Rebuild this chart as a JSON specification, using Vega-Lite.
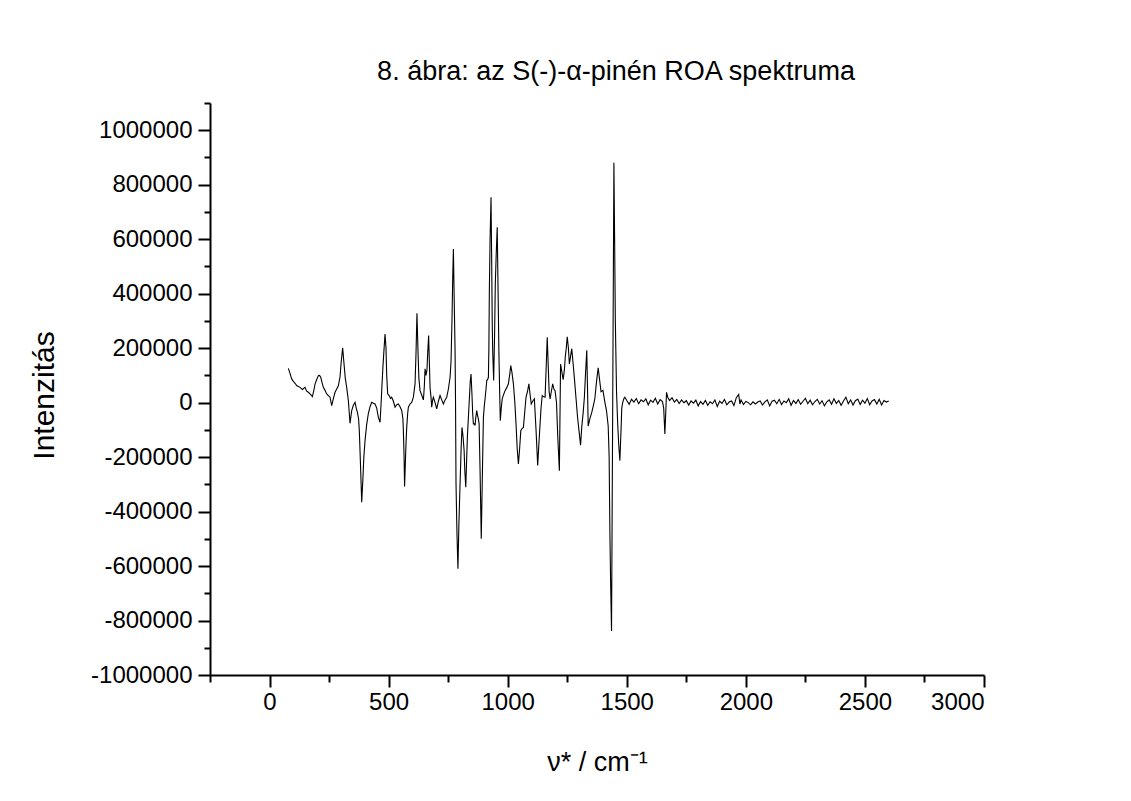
{
  "$schema": "https://vega.github.io/schema/vega-lite/v6.json",
  "width": 774,
  "height": 572,
  "autosize": {"type": "none"},
  "padding": {"left": 210, "top": 103, "right": 147, "bottom": 126},
  "background": "white",
  "config": {"view": {"stroke": null}, "font": "Liberation Sans"},
  "title": {"text": "8. ábra: az S(-)-α-pinén ROA spektruma", "fontSize": 27, "font": "Liberation Sans", "fontWeight": "normal", "color": "black", "anchor": "middle", "baseline": "alphabetic", "offset": -5, "dx": 19},
  "data": {"values": [
    {"nu":79,"I":126000},{"nu":85,"I":110000},{"nu":93,"I":87000},{"nu":100,"I":78000},{"nu":107,"I":71000},{"nu":115,"I":62000},{"nu":128,"I":56000},{"nu":138,"I":48000},{"nu":149,"I":56000},{"nu":156,"I":42000},{"nu":163,"I":38000},{"nu":172,"I":30000},{"nu":180,"I":22000},{"nu":186,"I":45000},{"nu":191,"I":68000},{"nu":198,"I":85000},{"nu":205,"I":99000},{"nu":210,"I":100000},{"nu":215,"I":93000},{"nu":220,"I":75000},{"nu":226,"I":56000},{"nu":233,"I":45000},{"nu":240,"I":32000},{"nu":247,"I":26000},{"nu":254,"I":20000},{"nu":261,"I":-11000},{"nu":268,"I":15000},{"nu":275,"I":38000},{"nu":282,"I":50000},{"nu":289,"I":62000},{"nu":296,"I":95000},{"nu":301,"I":150000},{"nu":307,"I":201000},{"nu":312,"I":150000},{"nu":318,"I":90000},{"nu":324,"I":56000},{"nu":331,"I":7000},{"nu":338,"I":-76000},{"nu":345,"I":-29000},{"nu":352,"I":-10000},{"nu":359,"I":1000},{"nu":364,"I":-20000},{"nu":369,"I":-36000},{"nu":374,"I":-60000},{"nu":377,"I":-103000},{"nu":382,"I":-230000},{"nu":387,"I":-366000},{"nu":392,"I":-280000},{"nu":396,"I":-200000},{"nu":401,"I":-139000},{"nu":408,"I":-80000},{"nu":415,"I":-39000},{"nu":422,"I":-15000},{"nu":429,"I":1000},{"nu":436,"I":-2000},{"nu":443,"I":-5000},{"nu":450,"I":-20000},{"nu":457,"I":-54000},{"nu":464,"I":-72000},{"nu":468,"I":-10000},{"nu":471,"I":44000},{"nu":476,"I":130000},{"nu":481,"I":200000},{"nu":485,"I":252000},{"nu":489,"I":200000},{"nu":492,"I":100000},{"nu":496,"I":32000},{"nu":503,"I":25000},{"nu":508,"I":15000},{"nu":513,"I":20000},{"nu":520,"I":5000},{"nu":527,"I":-17000},{"nu":534,"I":-8000},{"nu":541,"I":-5000},{"nu":548,"I":-15000},{"nu":555,"I":-29000},{"nu":560,"I":-60000},{"nu":562,"I":-103000},{"nu":565,"I":-200000},{"nu":567,"I":-308000},{"nu":570,"I":-230000},{"nu":573,"I":-150000},{"nu":576,"I":-91000},{"nu":580,"I":-40000},{"nu":583,"I":-17000},{"nu":590,"I":-5000},{"nu":597,"I":1000},{"nu":604,"I":20000},{"nu":611,"I":69000},{"nu":615,"I":180000},{"nu":619,"I":328000},{"nu":623,"I":200000},{"nu":627,"I":90000},{"nu":632,"I":44000},{"nu":638,"I":30000},{"nu":646,"I":10000},{"nu":650,"I":60000},{"nu":653,"I":124000},{"nu":657,"I":100000},{"nu":661,"I":120000},{"nu":664,"I":180000},{"nu":668,"I":246000},{"nu":671,"I":150000},{"nu":674,"I":56000},{"nu":678,"I":20000},{"nu":681,"I":-17000},{"nu":685,"I":10000},{"nu":688,"I":20000},{"nu":695,"I":0},{"nu":702,"I":-23000},{"nu":709,"I":5000},{"nu":716,"I":26000},{"nu":723,"I":10000},{"nu":730,"I":-5000},{"nu":737,"I":10000},{"nu":744,"I":20000},{"nu":751,"I":50000},{"nu":758,"I":93000},{"nu":762,"I":150000},{"nu":766,"I":300000},{"nu":769,"I":450000},{"nu":772,"I":564000},{"nu":775,"I":400000},{"nu":779,"I":191000},{"nu":781,"I":0},{"nu":783,"I":-299000},{"nu":787,"I":-480000},{"nu":791,"I":-610000},{"nu":795,"I":-450000},{"nu":800,"I":-298000},{"nu":804,"I":-180000},{"nu":808,"I":-91000},{"nu":812,"I":-120000},{"nu":817,"I":-176000},{"nu":820,"I":-250000},{"nu":824,"I":-311000},{"nu":828,"I":-200000},{"nu":831,"I":-120000},{"nu":835,"I":-54000},{"nu":840,"I":30000},{"nu":843,"I":80000},{"nu":846,"I":105000},{"nu":850,"I":30000},{"nu":853,"I":-40000},{"nu":856,"I":-78000},{"nu":860,"I":-78000},{"nu":863,"I":-84000},{"nu":866,"I":-55000},{"nu":870,"I":-29000},{"nu":874,"I":-50000},{"nu":877,"I":-60000},{"nu":880,"I":-78000},{"nu":884,"I":-250000},{"nu":889,"I":-500000},{"nu":893,"I":-300000},{"nu":898,"I":-54000},{"nu":902,"I":-10000},{"nu":905,"I":14000},{"nu":909,"I":50000},{"nu":912,"I":81000},{"nu":916,"I":85000},{"nu":919,"I":93000},{"nu":921,"I":200000},{"nu":923,"I":411000},{"nu":926,"I":600000},{"nu":930,"I":754000},{"nu":933,"I":500000},{"nu":935,"I":300000},{"nu":937,"I":191000},{"nu":941,"I":81000},{"nu":945,"I":250000},{"nu":948,"I":436000},{"nu":952,"I":550000},{"nu":956,"I":644000},{"nu":959,"I":450000},{"nu":963,"I":191000},{"nu":966,"I":50000},{"nu":969,"I":-66000},{"nu":973,"I":-20000},{"nu":977,"I":14000},{"nu":983,"I":30000},{"nu":989,"I":44000},{"nu":996,"I":55000},{"nu":1003,"I":69000},{"nu":1008,"I":100000},{"nu":1013,"I":136000},{"nu":1018,"I":110000},{"nu":1024,"I":69000},{"nu":1030,"I":0},{"nu":1035,"I":-78000},{"nu":1040,"I":-170000},{"nu":1045,"I":-225000},{"nu":1050,"I":-170000},{"nu":1055,"I":-103000},{"nu":1060,"I":-95000},{"nu":1066,"I":-91000},{"nu":1071,"I":-40000},{"nu":1077,"I":20000},{"nu":1083,"I":40000},{"nu":1089,"I":69000},{"nu":1094,"I":30000},{"nu":1099,"I":-5000},{"nu":1105,"I":5000},{"nu":1112,"I":14000},{"nu":1119,"I":-100000},{"nu":1126,"I":-231000},{"nu":1131,"I":-150000},{"nu":1136,"I":-78000},{"nu":1140,"I":-20000},{"nu":1145,"I":26000},{"nu":1150,"I":22000},{"nu":1157,"I":20000},{"nu":1162,"I":140000},{"nu":1166,"I":240000},{"nu":1170,"I":140000},{"nu":1174,"I":40000},{"nu":1178,"I":14000},{"nu":1183,"I":40000},{"nu":1189,"I":69000},{"nu":1194,"I":50000},{"nu":1199,"I":44000},{"nu":1205,"I":0},{"nu":1210,"I":-120000},{"nu":1217,"I":-250000},{"nu":1222,"I":141000},{"nu":1228,"I":110000},{"nu":1233,"I":84000},{"nu":1238,"I":120000},{"nu":1242,"I":170000},{"nu":1246,"I":200000},{"nu":1250,"I":242000},{"nu":1255,"I":200000},{"nu":1259,"I":141000},{"nu":1264,"I":170000},{"nu":1269,"I":198000},{"nu":1274,"I":150000},{"nu":1280,"I":90000},{"nu":1287,"I":15000},{"nu":1293,"I":-50000},{"nu":1299,"I":-100000},{"nu":1306,"I":-156000},{"nu":1311,"I":-90000},{"nu":1317,"I":-36000},{"nu":1322,"I":20000},{"nu":1327,"I":110000},{"nu":1332,"I":192000},{"nu":1335,"I":60000},{"nu":1338,"I":-86000},{"nu":1345,"I":-60000},{"nu":1353,"I":-36000},{"nu":1360,"I":-10000},{"nu":1366,"I":15000},{"nu":1371,"I":60000},{"nu":1376,"I":100000},{"nu":1380,"I":128000},{"nu":1385,"I":90000},{"nu":1392,"I":40000},{"nu":1400,"I":45000},{"nu":1408,"I":2000},{"nu":1415,"I":-30000},{"nu":1422,"I":-86000},{"nu":1426,"I":-200000},{"nu":1429,"I":-465000},{"nu":1432,"I":-650000},{"nu":1436,"I":-838000},{"nu":1441,"I":0},{"nu":1446,"I":881000},{"nu":1449,"I":600000},{"nu":1452,"I":300000},{"nu":1457,"I":40000},{"nu":1462,"I":-80000},{"nu":1466,"I":-150000},{"nu":1471,"I":-213000},{"nu":1476,"I":-100000},{"nu":1479,"I":-20000},{"nu":1483,"I":1000},{"nu":1488,"I":15000},{"nu":1492,"I":20000},
    {"nu":1500,"I":8000},{"nu":1510,"I":-6000},{"nu":1520,"I":12000},{"nu":1530,"I":2000},{"nu":1540,"I":15000},{"nu":1550,"I":-4000},{"nu":1560,"I":10000},{"nu":1570,"I":3000},{"nu":1580,"I":14000},{"nu":1590,"I":-8000},{"nu":1600,"I":9000},{"nu":1610,"I":1000},{"nu":1620,"I":16000},{"nu":1630,"I":-5000},{"nu":1640,"I":11000},{"nu":1650,"I":4000},{"nu":1655,"I":-20000},{"nu":1660,"I":-115000},{"nu":1664,"I":-30000},{"nu":1667,"I":38000},{"nu":1672,"I":20000},{"nu":1680,"I":8000},{"nu":1690,"I":18000},{"nu":1700,"I":2000},{"nu":1710,"I":12000},{"nu":1720,"I":-3000},{"nu":1730,"I":10000},{"nu":1740,"I":0},{"nu":1750,"I":7000},{"nu":1760,"I":-9000},{"nu":1770,"I":6000},{"nu":1780,"I":-2000},{"nu":1790,"I":9000},{"nu":1800,"I":-12000},{"nu":1810,"I":4000},{"nu":1820,"I":-6000},{"nu":1830,"I":8000},{"nu":1840,"I":-10000},{"nu":1850,"I":3000},{"nu":1860,"I":-4000},{"nu":1870,"I":10000},{"nu":1880,"I":-14000},{"nu":1890,"I":5000},{"nu":1900,"I":-3000},{"nu":1910,"I":12000},{"nu":1920,"I":-8000},{"nu":1930,"I":2000},{"nu":1940,"I":6000},{"nu":1950,"I":-11000},{"nu":1960,"I":18000},{"nu":1970,"I":30000},{"nu":1975,"I":-5000},{"nu":1980,"I":10000},{"nu":1990,"I":-7000},{"nu":2000,"I":4000},{"nu":2010,"I":0},{"nu":2020,"I":-8000},{"nu":2030,"I":3000},{"nu":2040,"I":-5000},{"nu":2050,"I":2000},{"nu":2060,"I":6000},{"nu":2070,"I":-9000},{"nu":2080,"I":3000},{"nu":2090,"I":10000},{"nu":2100,"I":-12000},{"nu":2110,"I":5000},{"nu":2120,"I":9000},{"nu":2130,"I":-4000},{"nu":2140,"I":12000},{"nu":2150,"I":-7000},{"nu":2160,"I":6000},{"nu":2170,"I":0},{"nu":2180,"I":14000},{"nu":2190,"I":-10000},{"nu":2200,"I":8000},{"nu":2210,"I":-3000},{"nu":2220,"I":11000},{"nu":2230,"I":-6000},{"nu":2240,"I":5000},{"nu":2250,"I":16000},{"nu":2260,"I":-4000},{"nu":2270,"I":9000},{"nu":2280,"I":-8000},{"nu":2290,"I":4000},{"nu":2300,"I":12000},{"nu":2310,"I":-5000},{"nu":2320,"I":7000},{"nu":2330,"I":-12000},{"nu":2340,"I":3000},{"nu":2350,"I":10000},{"nu":2360,"I":-6000},{"nu":2370,"I":14000},{"nu":2380,"I":-3000},{"nu":2390,"I":8000},{"nu":2400,"I":-10000},{"nu":2410,"I":6000},{"nu":2420,"I":20000},{"nu":2430,"I":-4000},{"nu":2440,"I":10000},{"nu":2450,"I":-9000},{"nu":2460,"I":7000},{"nu":2470,"I":13000},{"nu":2480,"I":-7000},{"nu":2490,"I":9000},{"nu":2500,"I":-2000},{"nu":2510,"I":15000},{"nu":2520,"I":-8000},{"nu":2530,"I":6000},{"nu":2540,"I":11000},{"nu":2550,"I":-5000},{"nu":2560,"I":12000},{"nu":2570,"I":-9000},{"nu":2580,"I":8000},{"nu":2590,"I":2000},{"nu":2600,"I":6000}
  ]},
  "layer": [
    {
      "mark": {"type": "line", "color": "black", "strokeWidth": 1.1, "clip": true},
      "encoding": {
        "x": {"field": "nu", "type": "quantitative", "sort": null,
          "scale": {"domain": [-250, 3000], "nice": false, "zero": false},
          "axis": {"orient": "bottom", "values": [0, 500, 1000, 1500, 2000, 2500, 3000], "labelExpr": "'' + datum.value", "grid": false,
            "domainColor": "black", "domainWidth": 2, "tickColor": "black", "tickWidth": 2, "tickSize": 12,
            "labelColor": "black", "labelFontSize": 24, "labelFont": "Liberation Sans", "labelPadding": 3,
            "title": "ν* / cm⁻¹", "titleFont": "Liberation Sans", "titleFontSize": 27, "titleFontWeight": "normal", "titleColor": "black",
            "titleX": 387, "titleY": 95, "titleBaseline": "alphabetic", "titleAlign": "center"}},
        "y": {"field": "I", "type": "quantitative",
          "scale": {"domain": [-1000000, 1100000], "nice": false, "zero": false},
          "axis": {"orient": "left", "values": [-1000000, -800000, -600000, -400000, -200000, 0, 200000, 400000, 600000, 800000, 1000000], "labelExpr": "'' + datum.value", "grid": false,
            "domainColor": "black", "domainWidth": 2, "tickColor": "black", "tickWidth": 2, "tickSize": 12,
            "labelColor": "black", "labelFontSize": 24, "labelFont": "Liberation Sans", "labelPadding": 6,
            "title": "Intenzitás", "titleFont": "Liberation Sans", "titleFontSize": 30, "titleFontWeight": "normal", "titleColor": "black",
            "titleAngle": -90, "titleX": -157, "titleY": 292, "titleBaseline": "alphabetic", "titleAlign": "center"}}
      }
    },
    {
      "mark": {"type": "point", "opacity": 0},
      "encoding": {
        "x": {"field": "nu", "type": "quantitative",
          "axis": {"orient": "bottom", "values": [-250, 250, 750, 1250, 1750, 2250, 2750], "labels": false, "domain": false, "grid": false, "tickColor": "black", "tickWidth": 2, "tickSize": 7, "title": null}},
        "y": {"field": "I", "type": "quantitative",
          "axis": {"orient": "left", "values": [-900000, -700000, -500000, -300000, -100000, 100000, 300000, 500000, 700000, 900000, 1100000], "labels": false, "domain": false, "grid": false, "tickColor": "black", "tickWidth": 2, "tickSize": 6, "title": null}}
      }
    }
  ],
  "resolve": {"axis": {"x": "independent", "y": "independent"}}
}
